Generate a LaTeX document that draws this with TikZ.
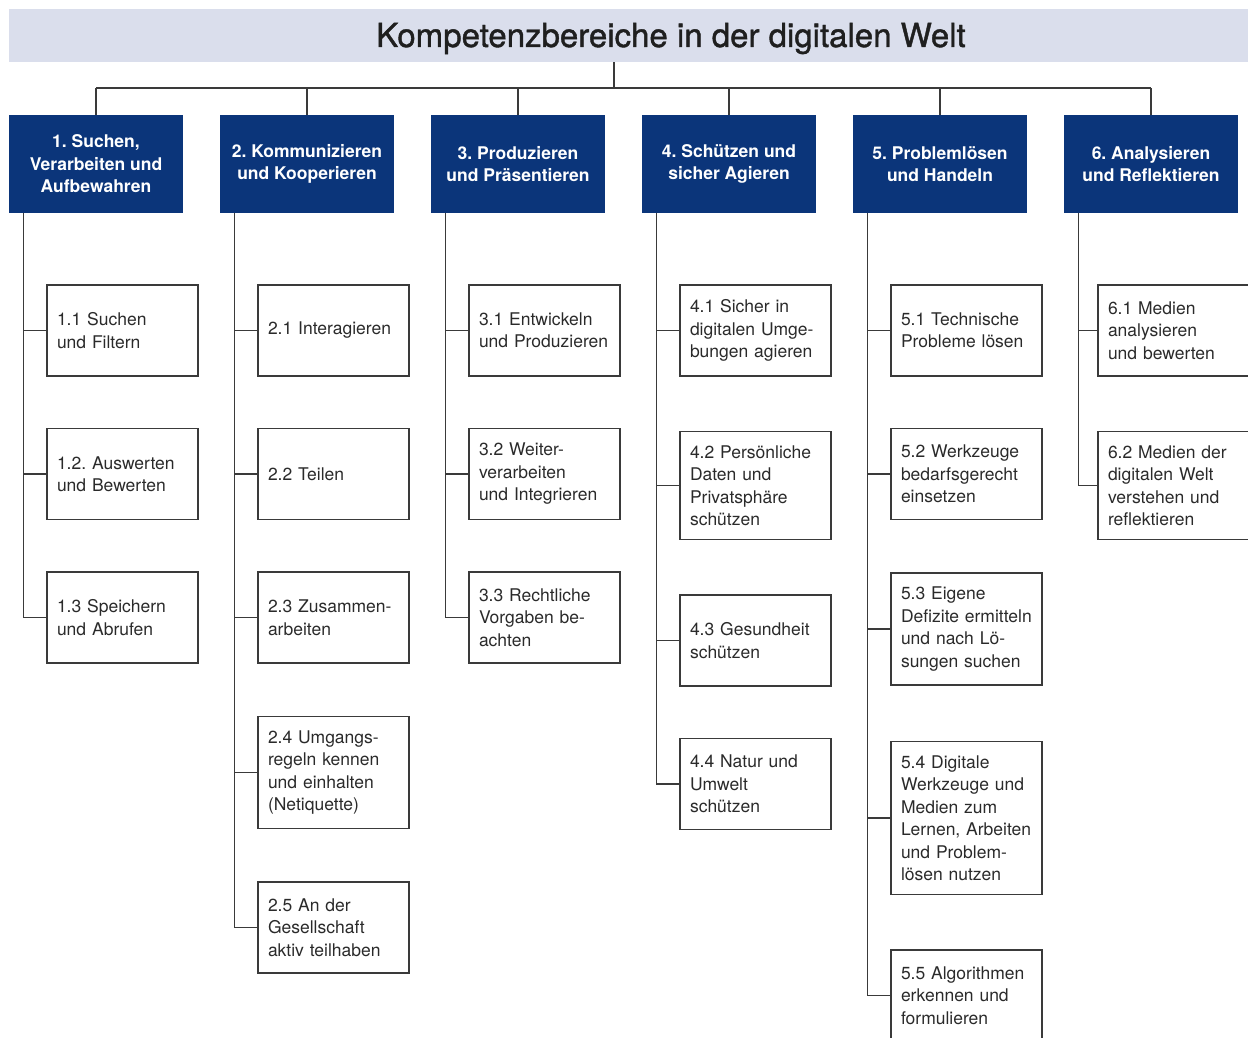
\documentclass[tikz,border=0pt]{standalone}
\usepackage{fontspec}
\setmainfont{TeX Gyre Heros}
\newfontfamily\titlefont[RawFeature={embolden=1.2}]{TeX Gyre Heros}
\frenchspacing
\definecolor{bandgray}{HTML}{DADEEC}
\definecolor{areablue}{HTML}{0B357A}
\definecolor{linegray}{HTML}{3A3A3A}
\definecolor{textgray}{HTML}{2A2A2A}

\tikzset{
  band/.style={fill=bandgray, minimum width=1324pt, minimum height=53pt, inner sep=0pt,
    text=black!88, font=\titlefont\fontsize{33}{38}\selectfont},
  area/.style={fill=areablue, text=white, minimum width=174pt, minimum height=97pt,
    inner sep=2pt, align=center, font=\bfseries\fontsize{17.5}{22.5}\selectfont},
  skill/.style={draw=linegray, line width=1.1pt, text=textgray, text width=131pt,
    inner xsep=10pt, inner ysep=14pt, minimum height=91pt, align=left,
    font=\fontsize{17.5}{22.5}\selectfont},
  link/.style={draw=linegray, line width=1.1pt},
}

\begin{document}
\begin{tikzpicture}[x=1pt,y=-1pt]
\useasboundingbox (0,0) rectangle (1248,1038);
\clip (0,0) rectangle (1248,1038);

\node[band, text height=27pt, text depth=4pt] (title) at (671,35.5) {Kompetenzbereiche in der digitalen Welt};

% Kompetenzbereiche
\node[area] (k1) at (96,164) {1. Suchen,\\Verarbeiten und\\Aufbewahren};
\node[area] (k2) at (307,164) {2. Kommunizieren\\und Kooperieren};
\node[area] (k3) at (518,164) {3. Produzieren\\und Präsentieren};
\node[area] (k4) at (729,164) {4. Schützen und\\sicher Agieren};
\node[area] (k5) at (940,164) {5. Problemlösen\\und Handeln};
\node[area] (k6) at (1151,164) {6. Analysieren\\und Reflektieren};

% Kompetenzen
\node[skill] (s11) at (122.5,330.5) {1.1 Suchen\\und Filtern};
\node[skill] (s12) at (122.5,474) {1.2. Auswerten\\und Bewerten};
\node[skill] (s13) at (122.5,617.5) {1.3 Speichern\\und Abrufen};

\node[skill] (s21) at (333.5,330.5) {2.1 Interagieren};
\node[skill] (s22) at (333.5,474) {2.2 Teilen};
\node[skill] (s23) at (333.5,617.5) {2.3 Zusammen-\\arbeiten};
\node[skill] (s24) at (333.5,772.5) {2.4 Umgangs-\\regeln kennen\\und einhalten\\(Netiquette)};
\node[skill] (s25) at (333.5,927.5) {2.5 An der\\Gesellschaft\\aktiv teilhaben};

\node[skill] (s31) at (544.5,330.5) {3.1 Entwickeln\\und Produzieren};
\node[skill] (s32) at (544.5,474) {3.2 Weiter-\\verarbeiten\\und Integrieren};
\node[skill] (s33) at (544.5,617.5) {3.3 Rechtliche\\Vorgaben be-\\achten};

\node[skill] (s41) at (755.5,330.5) {4.1 Sicher in\\digitalen Umge-\\bungen agieren};
\node[skill] (s42) at (755.5,485.5) {4.2 Persönliche\\Daten und\\Privatsphäre\\schützen};
\node[skill] (s43) at (755.5,640.5) {4.3 Gesundheit\\schützen};
\node[skill] (s44) at (755.5,784) {4.4 Natur und\\Umwelt\\schützen};

\node[skill] (s51) at (966.5,330.5) {5.1 Technische\\Probleme lösen};
\node[skill] (s52) at (966.5,474) {5.2 Werkzeuge\\bedarfsgerecht\\einsetzen};
\node[skill] (s53) at (966.5,629) {5.3 Eigene\\Defizite~ermitteln\\und nach Lö-\\sungen suchen};
\node[skill] (s54) at (966.5,818) {5.4 Digitale\\Werkzeuge und\\Medien zum\\Lernen,~Arbeiten\\und Problem-\\lösen nutzen};
\node[skill] (s55) at (966.5,995.5) {5.5 Algorithmen\\erkennen und\\formulieren};

\node[skill] (s61) at (1173.5,330.5) {6.1 Medien\\analysieren\\und bewerten};
\node[skill] (s62) at (1173.5,485.5) {6.2 Medien der\\digitalen Welt\\verstehen und\\reflektieren};

% Verbindungen
\coordinate (hub) at (614,88);
\draw[link] (title.south -| hub) -- (hub);
\draw[link] (k1.north |- hub) -- (k6.north |- hub);
\foreach \k in {1,...,6}
  \draw[link] (k\k.north) -- (k\k.north |- hub);

\foreach \k/\last in {1/3,2/5,3/3,4/4,5/5,6/2}{
  \coordinate (sp\k) at ([xshift=15pt]k\k.south west);
  \draw[link] (sp\k) |- (s\k\last.west);
  \foreach \r in {1,...,\last}
    \draw[link] (s\k\r.west) -- (s\k\r.west -| sp\k);
}
\end{tikzpicture}
\end{document}
